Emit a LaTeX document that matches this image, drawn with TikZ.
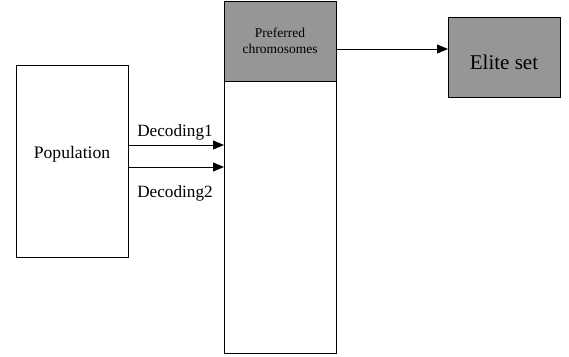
\documentclass[tikz,border=0pt]{standalone}
\usepackage{fontspec}
\setmainfont{Liberation Serif}
\usetikzlibrary{arrows.meta}
\begin{document}
\begin{tikzpicture}[x=1pt,y=-1pt,
  box/.style={draw, line width=0.8pt},
  graybox/.style={draw, line width=0.8pt, fill=black!41},
  arr/.style={line width=0.8pt, -{Triangle[length=11pt,width=9pt]}}]
\useasboundingbox (0,0) rectangle (569,356);
\draw[box] (16,65) rectangle (128,257);
\node (pop) at (72,154) {\fontsize{17.6}{20}\selectfont Population};
\draw[box] (224,1) rectangle (336,353);
\draw[graybox] (224,1) rectangle (336,81);
\node (pref1) at (280,33) {\fontsize{13.5}{15}\selectfont Preferred};
\node (pref2) at (280,49) {\fontsize{13.5}{15}\selectfont chromosomes};
\draw[graybox] (448,17) rectangle (560,97);
\node (elite) at (504,62) {\fontsize{21}{24}\selectfont Elite set};
\coordinate (a1s) at (128,145); \coordinate (a1e) at (224,145);
\coordinate (a2s) at (128,167); \coordinate (a2e) at (224,167);
\coordinate (a3s) at (336,49); \coordinate (a3e) at (448,49);
\draw[arr] (a1s) -- (a1e);
\draw[arr] (a2s) -- (a2e);
\draw[arr] (a3s) -- (a3e);
\node (d1) at (175,132) {\fontsize{17.2}{20}\selectfont Decoding1};
\node (d2) at (175,193) {\fontsize{17.2}{20}\selectfont Decoding2};
\end{tikzpicture}
\end{document}
